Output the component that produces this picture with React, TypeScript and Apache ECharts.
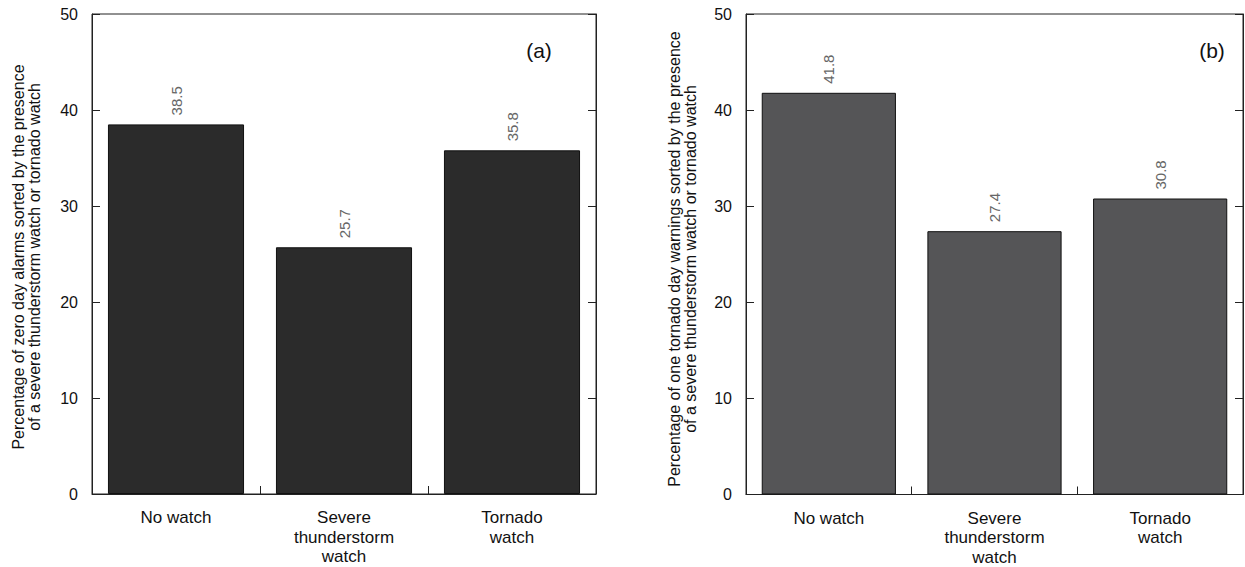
import React, { useEffect, useRef } from "react";
import * as echarts from "echarts";

const categories = ["No watch", "Severe\nthunderstorm\nwatch", "Tornado\nwatch"];
const zeroDayAlarms = [38.5, 25.7, 35.8];
const oneTornadoDayWarnings = [41.8, 27.4, 30.8];
const yTicks = { min: 0, max: 50, interval: 10 };
const titleA = "Percentage of zero day alarms sorted by the presence\nof a severe thunderstorm watch or tornado watch";
const titleB = "Percentage of one tornado day warnings sorted by the presence\nof a severe thunderstorm watch or tornado watch";
const panelLabels = ["(a)", "(b)"];

const FONT = "'Liberation Sans', Arial, sans-serif";

export default function App() {
  const ref = useRef<HTMLDivElement>(null);
  useEffect(() => {
    if (!ref.current) return;
    const chart = echarts.init(ref.current, undefined, { renderer: "svg" });
    const grids = [
      { left: 92, top: 14, width: 504, height: 480 },
      { left: 746, top: 14, width: 497, height: 482 },
    ];
    const yAxes: any[] = [];
    const xAxes: any[] = [];
    grids.forEach((_, i) => {
      xAxes.push({
        type: "category",
        gridIndex: i,
        data: categories,
        axisLine: { show: true, lineStyle: { color: "#222", width: 1 } },
        axisTick: { show: true, inside: true, length: 8, lineStyle: { color: "#222" } },
        axisLabel: {
          color: "#111",
          fontSize: 17,
          lineHeight: 19.5,
          fontFamily: FONT,
          margin: 14,
          interval: 0,
        },
      });
      yAxes.push({
        type: "value",
        gridIndex: i,
        min: yTicks.min,
        max: yTicks.max,
        interval: yTicks.interval,
        axisLine: { show: true, lineStyle: { color: "#222", width: 1 } },
        axisTick: { show: true, inside: true, length: 8, lineStyle: { color: "#222" } },
        axisLabel: { color: "#111", fontSize: 16, fontFamily: FONT, margin: 14 },
        splitLine: { show: false },
      });
      yAxes.push({
        type: "value",
        gridIndex: i,
        position: "right",
        min: yTicks.min,
        max: yTicks.max,
        interval: yTicks.interval,
        axisLine: { show: true, lineStyle: { color: "#222", width: 1 } },
        axisTick: { show: true, inside: true, length: 8, lineStyle: { color: "#222" } },
        axisLabel: { show: false },
        splitLine: { show: false },
      });
    });
    const barColors = ["#2b2b2b", "#555557"];
    const datasets = [zeroDayAlarms, oneTornadoDayWarnings];
    const series = datasets.map((d, i) => ({
      type: "bar",
      xAxisIndex: i,
      yAxisIndex: i * 2,
      data: d,
      barWidth: "81%",
      itemStyle: { color: barColors[i], borderColor: "#111", borderWidth: 1 },
      label: {
        show: true,
        position: "top",
        rotate: 90,
        align: "left",
        verticalAlign: "middle",
        distance: 9,
        color: "#666",
        fontSize: 15,
        fontFamily: FONT,
        formatter: (p: any) => Number(p.value).toFixed(1),
      },
    }));
    const titleStyle = {
      fontSize: 16,
      lineHeight: 16,
      fontFamily: FONT,
      fill: "#111",
      align: "center",
      verticalAlign: "middle",
    };
    chart.setOption({
      animation: false,
      backgroundColor: "#fff",
      grid: grids.map((g) => ({ ...g, show: true, borderColor: "#222", borderWidth: 1, backgroundColor: "transparent" })),
      xAxis: xAxes,
      yAxis: yAxes,
      series,
      graphic: [
        {
          type: "text",
          x: 26,
          y: 257,
          rotation: Math.PI / 2,
          style: { ...titleStyle, text: titleA },
        },
        {
          type: "text",
          x: 682,
          y: 259,
          rotation: Math.PI / 2,
          style: { ...titleStyle, text: titleB },
        },
        {
          type: "text",
          x: 539,
          y: 50,
          style: { text: panelLabels[0], fontSize: 21, fontFamily: FONT, fill: "#111", align: "center", verticalAlign: "middle" },
        },
        {
          type: "text",
          x: 1212,
          y: 50,
          style: { text: panelLabels[1], fontSize: 21, fontFamily: FONT, fill: "#111", align: "center", verticalAlign: "middle" },
        },
      ],
    });
    return () => chart.dispose();
  }, []);
  return (
    <div
      ref={ref}
      style={{ position: "absolute", left: 0, top: 0, width: 1245, height: 567 }}
    />
  );
}
